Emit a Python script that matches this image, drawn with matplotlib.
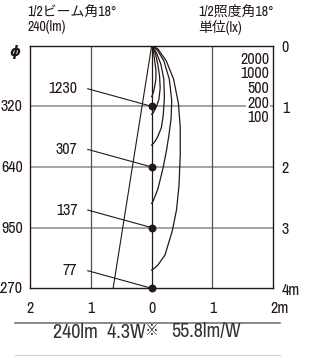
import numpy as np
import matplotlib
matplotlib.use("Agg")
import matplotlib.pyplot as plt
from matplotlib import font_manager as fm

# ---- data ----
distances = [1, 2, 3, 4]
center_lux = [1230, 307, 137, 77]
beam_diam = [320, 640, 950, 1270]
half_beam_angle = 18
lux_levels = [2000, 1000, 500, 200, 100]
# isolux curves (x [m], depth [m])
curve_2000_x = [0, 0.03, 0.05, 0.07, 0.07, 0.05, 0.03, 0.01, 0]
curve_2000_d = [0, 0.1, 0.25, 0.4, 0.55, 0.67, 0.76, 0.82, 0.84]
curve_1000_x = [0, 0.06, 0.1, 0.13, 0.14, 0.12, 0.08, 0.03, 0]
curve_1000_d = [0, 0.12, 0.3, 0.5, 0.7, 0.88, 1.0, 1.1, 1.13]
curve_500_x = [0, 0.08, 0.15, 0.2, 0.21, 0.19, 0.16, 0.1, 0.04, 0]
curve_500_d = [0, 0.12, 0.3, 0.55, 0.85, 1.15, 1.35, 1.5, 1.6, 1.64]
curve_200_x = [0, 0.1, 0.2, 0.29, 0.33, 0.32, 0.28, 0.24, 0.18, 0.1, 0.03, 0]
curve_200_d = [0, 0.08, 0.25, 0.55, 0.9, 1.2, 1.5, 1.75, 2.05, 2.37, 2.55, 2.6]
curve_100_x = [0, 0.1, 0.24, 0.36, 0.44, 0.47, 0.47, 0.45, 0.41, 0.34, 0.22, 0.1, 0.02, 0]
curve_100_d = [0, 0.05, 0.25, 0.55, 0.95, 1.35, 1.8, 2.3, 2.7, 3.05, 3.45, 3.62, 3.69, 3.7]
curves_x = [curve_2000_x, curve_1000_x, curve_500_x, curve_200_x, curve_100_x]
curves_d = [curve_2000_d, curve_1000_d, curve_500_d, curve_200_d, curve_100_d]
x_ticks = [-2, -1, 0, 1, 2]
x_ticklabels = ["2", "1", "0", "1", "2m"]
right_ticks = [0, 1, 2, 3, 4]
right_ticklabels = ["0", "1", "2", "3", "4m"]

DARK = "#231815"
GRAY = "#8a8a8a"

# narrow regular-weight font for numbers if available
def pick_condensed():
    cands = []
    for f in fm.fontManager.ttflist:
        fn = f.fname
        base = fn.split("/")[-1]
        if ("Condensed" in base or "Narrow" in base) and f.style == "normal":
            if any(k in base for k in ["Bold", "Black", "Light", "Thin", "Medium", "Semi", "Extra", "Italic", "Oblique"]):
                continue
            cands.append(fn)
    cands.sort(key=lambda s: (0 if "Narrow" in s else 1 if "Roboto" in s else 2, s))
    return cands[0] if cands else None

cfile = pick_condensed()
if cfile:
    fm.fontManager.addfont(cfile)
    cname = fm.FontProperties(fname=cfile).get_name()
    FAM = [cname, "Noto Sans CJK JP", "DejaVu Sans"]
    SC = 1.0
else:
    FAM = ["Noto Sans CJK JP", "DejaVu Sans"]
    SC = 0.85
plt.rcParams["font.family"] = FAM

def num(size):
    return dict(family=FAM, fontsize=size * SC, fontweight="normal")

fig = plt.figure(figsize=(3.12, 3.56), dpi=100)
ax = fig.add_axes([30 / 312, 67.7 / 356, 243.3 / 312, 242.6 / 356])
ax.set_xlim(-2, 2)
ax.set_ylim(4, 0)
ax.set_xticks([])
ax.set_yticks([])
for s in ax.spines.values():
    s.set_color(DARK)
    s.set_linewidth(1.0)

# grid
for y in [1, 2, 3]:
    ax.plot([-2, 2], [y, y], color=GRAY, lw=1.1, zorder=1)
for x in [-1, 1]:
    ax.plot([x, x], [0, 4], color="#555050", lw=0.9, zorder=1)
ax.plot([0, 0], [0, 4], color=DARK, lw=0.9, zorder=2)

# beam line
t = np.tan(np.radians(half_beam_angle / 2))
ax.plot([0, -t * 4], [0, 4], color=DARK, lw=0.8, zorder=2)

# isolux curves
for cx, cd in zip(curves_x, curves_d):
    ax.plot(cx, cd, color=DARK, lw=0.9, zorder=3)

# center points and labels
ax.scatter([0] * len(distances), distances, s=22, color=DARK, zorder=5, clip_on=False)
for d, lx in zip(distances, center_lux):
    yl = d - 0.29
    ax.text(-1.22, yl, str(lx), ha="right", va="center", color=DARK, **num(11.5))
    ax.plot([-1.05, 0], [yl, d], color=DARK, lw=0.8, zorder=4)

# legend of lux levels (inside box)
for i, lv in enumerate(lux_levels):
    ax.text(1.93, 0.22 + i * 0.243, str(lv), ha="right", va="center",
            color=DARK, zorder=6, **num(11.5),
            bbox=dict(boxstyle="square,pad=0.05", fc="white", ec="none"))

# left labels
ax.text(-2.24, 0.1, "ϕ", ha="center", va="center", fontsize=10, fontweight="bold",
        style="italic", color=DARK, clip_on=False, family="DejaVu Sans")
for d, bd in zip(distances, beam_diam):
    ax.text(-2.12, d + 0.01, str(bd), ha="right", va="center", color=DARK, clip_on=False, **num(11.5))

# right labels
for d, lab in zip(right_ticks, right_ticklabels):
    ax.text(2.14, d + 0.03, lab, ha="left", va="center", color=DARK, clip_on=False, **num(11.5))

# bottom labels
for x, lab in zip(x_ticks, x_ticklabels):
    if lab.endswith("m"):
        ax.text(x - 0.05, 4.33, lab, ha="left", va="center", color=DARK, clip_on=False, **num(11.5))
    else:
        ax.text(x, 4.33, lab, ha="center", va="center", color=DARK, clip_on=False, **num(11.5))

# header texts
hdr = num(10)
fig.text(27 / 312, 1 - 12 / 356, "1/2ビーム角18°", ha="left", va="center", color=DARK, **hdr)
fig.text(27 / 312, 1 - 27 / 356, "240(lm)", ha="left", va="center", color=DARK, **hdr)
fig.text(198 / 312, 1 - 12 / 356, "1/2照度角18°", ha="left", va="center", color=DARK, **hdr)
fig.text(198 / 312, 1 - 27 / 356, "単位(lx)", ha="left", va="center", color=DARK, **hdr)

# bottom spec
fig.add_artist(plt.Line2D([15 / 312, 280 / 312], [1 - 322.5 / 356] * 2, color="#6a6a6a", lw=1.1))
fig.add_artist(plt.Line2D([15 / 312, 280 / 312], [1 - 355 / 356] * 2, color="#d0d0d0", lw=0.8))
spec = num(14.5)
fig.text(146 / 312, 1 - 332 / 356, "240lm  4.3W", ha="right", va="center", color="#333", **spec)
fig.text(152 / 312, 1 - 331 / 356, "※", ha="center", va="center", fontsize=10,
         family=["Noto Sans CJK JP"], color="#333")
fig.text(171 / 312, 1 - 332 / 356, "55.8lm/W", ha="left", va="center", color="#333", **spec)

fig.savefig("out.png", dpi=100)
